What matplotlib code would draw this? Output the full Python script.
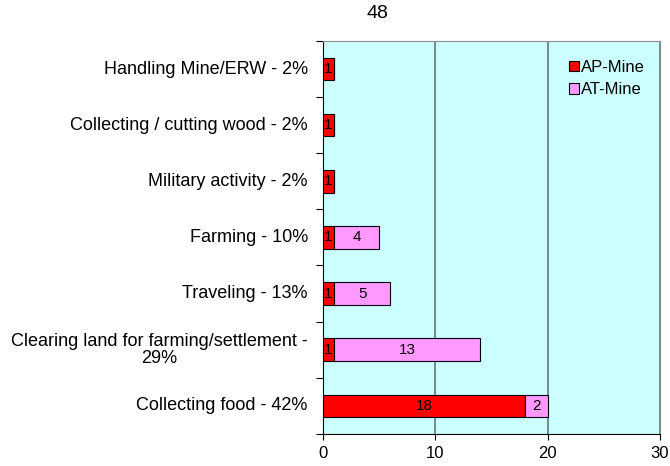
import matplotlib
matplotlib.use("Agg")
import matplotlib.pyplot as plt
import numpy as np

plt.rcParams['font.family'] = ['Liberation Sans', 'DejaVu Sans']

categories = ["Collecting food - 42%",
              "Clearing land for farming/settlement -\n29%",
              "Traveling - 13%",
              "Farming - 10%",
              "Military activity - 2%",
              "Collecting / cutting wood - 2%",
              "Handling Mine/ERW - 2%"]
ap_mine = [18, 1, 1, 1, 1, 1, 1]
at_mine = [2, 13, 5, 4, 0, 0, 0]
title = "48"

fig = plt.figure(figsize=(6.7, 4.66), dpi=100)
ax = fig.add_axes([0.482, 0.069, 0.503, 0.843])
ax.set_facecolor('#ccffff')

y = np.arange(len(categories))
ax.barh(y, ap_mine, height=0.4, color='#ff0000', edgecolor='black', linewidth=0.8,
        label='AP-Mine', zorder=3)
ax.barh(y, at_mine, left=ap_mine, height=0.4, color='#ff99ff', edgecolor='black',
        linewidth=0.8, label='AT-Mine', zorder=3)

for i in range(len(categories)):
    if ap_mine[i]:
        ax.text(ap_mine[i] / 2, y[i], str(ap_mine[i]), ha='center', va='center',
                fontsize=11, zorder=4)
    if at_mine[i]:
        ax.text(ap_mine[i] + at_mine[i] / 2, y[i], str(at_mine[i]), ha='center',
                va='center', fontsize=11, zorder=4)

ax.set_xlim(0, 30)
ax.set_ylim(-0.5, len(categories) - 0.5)
ax.set_xticks([0, 10, 20, 30])
ax.tick_params(axis='x', labelsize=12, length=4, direction='out', pad=5)
ax.xaxis.grid(True, color='#607878', linewidth=1.2, zorder=1)

# category labels sit between the boundary ticks
ax.set_yticks(np.arange(len(categories) + 1) - 0.5)
ax.set_yticklabels([])
ax.tick_params(axis='y', length=5, direction='out')
for i, c in enumerate(categories):
    ax.text(-0.045, y[i], c, transform=ax.get_yaxis_transform(), ha='right',
            va='center', fontsize=13, multialignment='center', linespacing=1.0)

for side in ['top', 'right']:
    ax.spines[side].set_color('#909090')

ax.legend(loc='upper right', frameon=False, fontsize=12, handlelength=0.6,
          handleheight=0.6, handletextpad=0.15, labelspacing=0.45,
          bbox_to_anchor=(1.0, 0.99))

fig.text(377 / 670, 1 - 14 / 466, title, ha='center', va='center', fontsize=14)

fig.savefig('out.png', dpi=100)
